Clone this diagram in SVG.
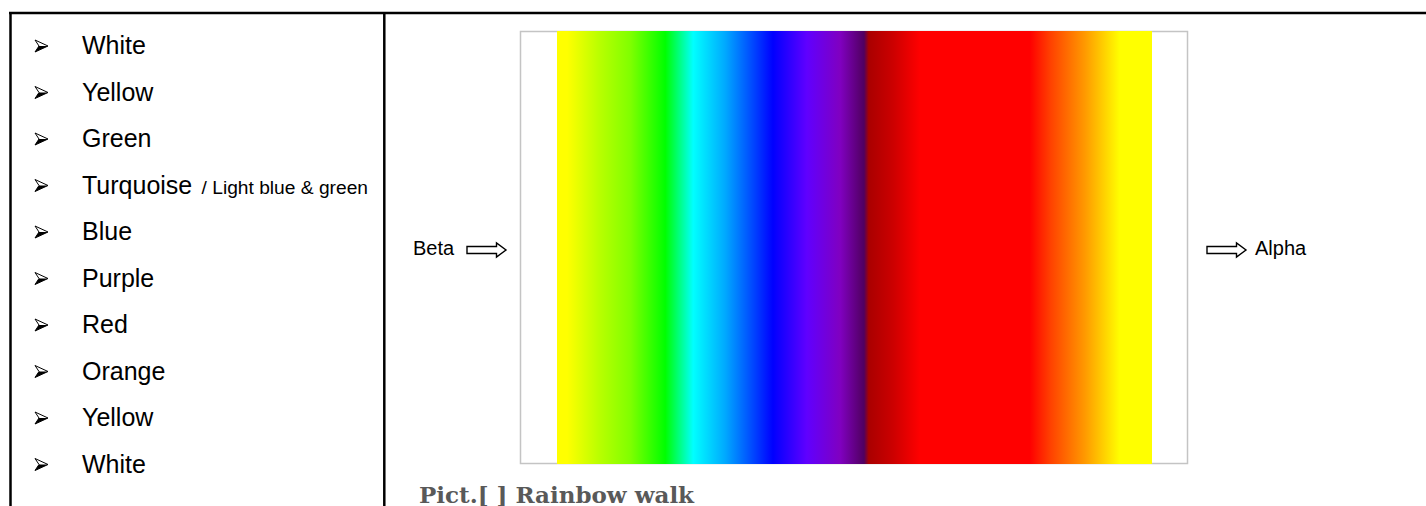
<svg xmlns="http://www.w3.org/2000/svg" xmlns:xlink="http://www.w3.org/1999/xlink" width="1426" height="506" viewBox="0 0 1426 506">
  <style>
    .item { font-family: "Liberation Sans", Arial, sans-serif; font-size: 25px; fill: #000; }
    .small { font-size: 19.2px; }
    .lbl { font-family: "Liberation Sans", Arial, sans-serif; font-size: 20px; fill: #000; }
    .cap { font-family: "DejaVu Serif", "Liberation Serif", serif; font-weight: bold; font-size: 23px; fill: #595959; }
    .rule { stroke: #000; stroke-width: 2.5; fill: none; }
    .arrow { fill: #fff; stroke: #000; stroke-width: 1.4; stroke-linejoin: miter; }
  </style>
  <defs>
    <g id="bullet">
      <path d="M35,-14 L48,-8 L35,-2 L39,-8 Z" fill="#fff" stroke="#000" stroke-width="1"/>
      <path d="M39,-8 L48,-8 L35,-2 Z" fill="#000"/>
    </g>
    <linearGradient id="rainbow" gradientUnits="userSpaceOnUse" x1="557" y1="0" x2="1152" y2="0">
      <stop offset="0" stop-color="#ffff00"/>
      <stop offset="0.017" stop-color="#ffff00"/>
      <stop offset="0.072" stop-color="#b8ff00"/>
      <stop offset="0.123" stop-color="#80ff00"/>
      <stop offset="0.182" stop-color="#00ff00"/>
      <stop offset="0.229" stop-color="#00ffff"/>
      <stop offset="0.282" stop-color="#00aaff"/>
      <stop offset="0.363" stop-color="#0000ff"/>
      <stop offset="0.420" stop-color="#6000ff"/>
      <stop offset="0.476" stop-color="#8000c0"/>
      <stop offset="0.516" stop-color="#500060"/>
      <stop offset="0.524" stop-color="#aa0000"/>
      <stop offset="0.565" stop-color="#cc0000"/>
      <stop offset="0.610" stop-color="#ff0000"/>
      <stop offset="0.795" stop-color="#ff0000"/>
      <stop offset="0.829" stop-color="#ff4000"/>
      <stop offset="0.887" stop-color="#ff9900"/>
      <stop offset="0.946" stop-color="#ffff00"/>
      <stop offset="1" stop-color="#ffff00"/>
    </linearGradient>
  </defs>

  <rect x="0" y="0" width="1426" height="506" fill="#fff"/>

  <g id="table">
    <line class="rule" x1="9" y1="13" x2="1426" y2="13"/>
    <line class="rule" x1="10.5" y1="12" x2="10.5" y2="506"/>
    <line class="rule" x1="384.3" y1="12" x2="384.3" y2="506"/>
  </g>

  <g id="list">
    <g id="item-white-1"><use xlink:href="#bullet" href="#bullet" x="0" y="54"/><text class="item" x="82" y="54">White</text></g>
    <g id="item-yellow-1"><use xlink:href="#bullet" href="#bullet" x="0" y="100.5"/><text class="item" x="82" y="100.5">Yellow</text></g>
    <g id="item-green"><use xlink:href="#bullet" href="#bullet" x="0" y="147"/><text class="item" x="82" y="147">Green</text></g>
    <g id="item-turquoise"><use xlink:href="#bullet" href="#bullet" x="0" y="193.5"/><text class="item" x="82" y="193.5">Turquoise<tspan class="small" dx="4"> / Light blue &amp; green</tspan></text></g>
    <g id="item-blue"><use xlink:href="#bullet" href="#bullet" x="0" y="240"/><text class="item" x="82" y="240">Blue</text></g>
    <g id="item-purple"><use xlink:href="#bullet" href="#bullet" x="0" y="286.5"/><text class="item" x="82" y="286.5">Purple</text></g>
    <g id="item-red"><use xlink:href="#bullet" href="#bullet" x="0" y="333"/><text class="item" x="82" y="333">Red</text></g>
    <g id="item-orange"><use xlink:href="#bullet" href="#bullet" x="0" y="379.5"/><text class="item" x="82" y="379.5">Orange</text></g>
    <g id="item-yellow-2"><use xlink:href="#bullet" href="#bullet" x="0" y="426"/><text class="item" x="82" y="426">Yellow</text></g>
    <g id="item-white-2"><use xlink:href="#bullet" href="#bullet" x="0" y="472.5"/><text class="item" x="82" y="472.5">White</text></g>
  </g>

  <g id="rainbow-panel">
    <rect x="520.5" y="31.5" width="667" height="432" fill="#fff" stroke="#c4c4c4" stroke-width="1.5"/>
    <rect x="557" y="31" width="595" height="433" fill="url(#rainbow)"/>
  </g>

  <g id="beta">
    <text class="lbl" x="413" y="255">Beta</text>
    <path class="arrow" d="M467,246.5 L496.5,246.5 L496.5,243 L506,250 L496.5,257 L496.5,253.5 L467,253.5 Z"/>
  </g>

  <g id="alpha">
    <path class="arrow" d="M1207,246.5 L1236.5,246.5 L1236.5,243 L1246,250 L1236.5,257 L1236.5,253.5 L1207,253.5 Z"/>
    <text class="lbl" x="1255" y="255">Alpha</text>
  </g>

  <g id="caption">
    <text class="cap" x="419" y="503">Pict.[ ] Rainbow walk</text>
  </g>
</svg>
